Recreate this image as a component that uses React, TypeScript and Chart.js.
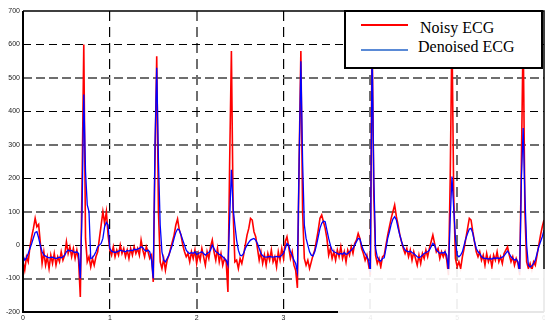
import React, { useEffect, useRef } from 'react';
import { Chart, registerables } from 'chart.js';

Chart.register(...registerables);

// Sampling interval of both traces (seconds)
const SAMPLE_STEP = 0.02;

// Axis ticks
const timeTicks = [0, 1, 2, 3, 4, 5, 6];
const amplitudeTicks = [-200, -100, 0, 100, 200, 300, 400, 500, 600, 700];

// Raw recording, one row per 0.2 s
const noisyEcg = [
  -50, -75, -35, -50, -5, 25, 50, 80, 55, 62,
  5, -55, -20, -60, -35, -70, -30, -55, -25, -60,
  -35, -50, -20, -45, -30, 10, -25, -5, -35, -10,
  -40, -15, -45, -155, 180, 600, 20, -50, -35, -65,
  -40, -60, -35, -20, 20, 60, 100, 65, 100, 30,
  -15, -30, -5, -35, -15, -30, 0, -25, -10, -35,
  -15, -40, -10, -30, -5, -25, -10, -30, 15, -15,
  -35, -5, -20, -40, -30, -110, 250, 565, 100, -50,
  -70, -40, -75, -45, -30, -10, 10, 30, 60, 78,
  45, 30, 0, -20, -35, -25, -50, -20, -40, -15,
  -55, -25, -45, -10, -35, -60, -20, -40, -5, 15,
  -20, -45, -10, -50, -25, -60, -40, -50, -140, 250,
  580, 100, -50, -45, -70, -40, -55, -30, 0, 30,
  50, 80, 75, 40, 25, -10, -45, -20, -55, -30,
  -60, -25, -45, -15, -50, -35, -65, -20, -45, -10,
  -40, 10, 25, -5, -40, -20, -60, -75, -128, 250,
  580, 100, -40, -60, -45, -70, -50, -30, -15, 15,
  45, 80, 90, 70, 50, 20, -30, -10, -40, -20,
  -45, -15, -35, -5, -40, -20, -50, -15, -30, -5,
  -25, 5, 15, 35, 20, -10, -25, -45, -30, -60,
  -90, 640, 150, -30, -55, -40, -65, -35, -30, 0,
  30, 55, 80, 100, 120, 85, 60, 30, 10, -10,
  -25, -10, -35, -15, -45, -20, -40, -60, -30, -55,
  -25, -40, -15, -35, -10, 10, 30, 5, -20, -10,
  -40, -20, -35, -20, -45, -90, 200, 640, 150, -40,
  -65, -50, -70, -35, -10, 20, 50, 80, 75, 40,
  10, -20, -35, -20, -45, -30, -60, -25, -50, -35,
  -65, -30, -45, -20, -50, -35, -55, -25, -15, -5,
  -30, -50, -35, -60, -40, -55, -90, 250, 640, 100,
  -50, -70, -55, -75, -50, -60, -30, 0, 30, 55,
  75,
];

// Filtered output, same sampling
const denoisedEcg = [
  -30, -45, -38, -25, -10, 5, 22, 38, 40, 22,
  -2, -20, -30, -33, -36, -38, -37, -36, -38, -40,
  -38, -36, -38, -35, -30, -20, -15, -18, -16, -20,
  -22, -20, -25, -100, 100, 450, 220, 120, 100, -40,
  -38, -30, -20, -5, 0, 5, 20, 55, 68, 60,
  -10, -18, -20, -22, -20, -18, -15, -17, -18, -20,
  -16, -18, -15, -17, -12, -14, -12, -10, -5, -8,
  -15, -18, -15, -20, -45, -100, 300, 530, 250, 60,
  -20, -45, -50, -40, -30, -15, 0, 20, 38, 48,
  45, 30, 15, 0, -15, -22, -25, -22, -25, -20,
  -28, -25, -22, -20, -25, -30, -25, -22, -15, 0,
  -10, -20, -22, -28, -30, -35, -40, -45, -60, 80,
  225, 110, 60, 15, -15, -30, -32, -25, -10, 0,
  8, 15, 18, 20, 15, 5, -10, -25, -32, -35,
  -36, -35, -34, -35, -36, -35, -34, -35, -35, -30,
  -25, -10, 5, 0, -20, -30, -45, -55, -80, 250,
  550, 250, 60, 20, 0, -20, -30, -32, -20, 0,
  25, 50, 65, 72, 70, 45, 20, 0, -15, -20,
  -22, -25, -28, -25, -27, -22, -28, -25, -20, -15,
  -10, 0, 10, 20, 18, 0, -15, -25, -35, -45,
  -80, 590, 200, -10, -35, -45, -48, -40, -38, -10,
  20, 40, 62, 78, 85, 75, 50, 30, 10, -5,
  -15, -18, -20, -18, -22, -25, -30, -35, -38, -35,
  -30, -25, -22, -20, -15, -5, 5, 0, -15, -20,
  -25, -22, -24, -20, -30, -75, 80, 205, 110, 20,
  -30, -35, -30, -20, 0, 20, 35, 48, 50, 35,
  10, -10, -20, -25, -35, -38, -40, -40, -42, -40,
  -42, -38, -40, -38, -40, -38, -36, -32, -25, -18,
  -25, -35, -40, -45, -42, -50, -80, 200, 350, 150,
  0, -60, -65, -62, -55, -45, -25, -5, 10, 25,
  45,
];

const seriesLabels = ['Noisy ECG', 'Denoised ECG'];

const NOISY_COLOR = '#ff0000';
const DENOISED_COLOR = '#0000ff';
const DENOISED_KEY_COLOR = '#5a8ad6';
const GRID_DARK = '#000000';
const GRID_GREY = '#6e6e6e';

const toPoints = (values: number[]) =>
  values.map((v, i) => ({ x: Math.round(i * SAMPLE_STEP * 100) / 100, y: v }));

// Solid box around the plotting area, drawn over the traces
const axesFrame = {
  id: 'axesFrame',
  afterDatasetsDraw(chart: Chart) {
    const { ctx, chartArea } = chart;
    const { left, right, top, bottom } = chartArea;
    ctx.save();
    ctx.strokeStyle = '#000';
    ctx.lineWidth = 2;
    ctx.beginPath();
    ctx.moveTo(left, top);
    ctx.lineTo(left, bottom);
    ctx.lineTo(right, bottom);
    ctx.stroke();
    ctx.lineWidth = 1.5;
    ctx.beginPath();
    ctx.moveTo(left, top);
    ctx.lineTo(right, top);
    ctx.lineTo(right, bottom);
    ctx.stroke();
    ctx.restore();
  },
};

const tickFont = { family: '"Liberation Sans", Arial, sans-serif', size: 7 };

export default function App() {
  const canvasRef = useRef<HTMLCanvasElement | null>(null);

  useEffect(() => {
    const canvas = canvasRef.current;
    if (!canvas) return;

    const isEdge = (v: number, lo: number, hi: number) => v <= lo || v >= hi;

    const yGridColor = (c: any) => {
      const v = c.tick ? c.tick.value : 0;
      if (isEdge(v, -200, 700)) return 'rgba(0,0,0,0)';
      return Math.round(v / 100) % 2 === 0 ? GRID_DARK : GRID_GREY;
    };
    const yGridWidth = (c: any) => {
      const v = c.tick ? c.tick.value : 0;
      return Math.round(v / 100) % 2 === 0 ? 1 : 2;
    };
    const yGridDash = (c: any) => {
      const v = c.tick ? c.tick.value : 0;
      return Math.round(v / 100) % 2 === 0 ? [8, 5] : [9, 4];
    };
    const xGridColor = (c: any) => {
      const v = c.tick ? c.tick.value : 0;
      if (isEdge(v, 0, 6)) return 'rgba(0,0,0,0)';
      return v === 1 || v === 3 ? GRID_DARK : GRID_GREY;
    };
    const xGridWidth = (c: any) => {
      const v = c.tick ? c.tick.value : 0;
      return v === 1 || v === 3 ? 1.2 : 2;
    };

    const chart = new Chart(canvas, {
      type: 'line',
      data: {
        datasets: [
          {
            label: seriesLabels[0],
            data: toPoints(noisyEcg),
            borderColor: NOISY_COLOR,
            borderWidth: 1.6,
            pointRadius: 0,
            tension: 0,
            order: 2,
          },
          {
            label: seriesLabels[1],
            data: toPoints(denoisedEcg),
            borderColor: DENOISED_COLOR,
            borderWidth: 1.3,
            pointRadius: 0,
            tension: 0,
            order: 1,
          },
        ],
      },
      options: {
        responsive: false,
        animation: false,
        devicePixelRatio: 1,
        layout: { padding: { top: 11, right: 1, left: 0, bottom: 0 } },
        plugins: {
          legend: { display: false },
          tooltip: { enabled: false },
        },
        scales: {
          x: {
            type: 'linear',
            min: timeTicks[0],
            max: timeTicks[timeTicks.length - 1],
            afterBuildTicks: (s: any) => {
              s.ticks = timeTicks.map((v) => ({ value: v }));
            },
            afterFit: (s: any) => {
              s.height = 12;
              s.paddingLeft = 0;
              s.paddingRight = 0;
            },
            ticks: {
              font: tickFont,
              color: '#222',
              padding: 2,
              maxRotation: 0,
              autoSkip: false,
            },
            grid: {
              drawTicks: false,
              color: xGridColor,
              lineWidth: xGridWidth,
            },
            border: { display: false, dash: [10, 6] },
          },
          y: {
            type: 'linear',
            min: amplitudeTicks[0],
            max: amplitudeTicks[amplitudeTicks.length - 1],
            afterBuildTicks: (s: any) => {
              s.ticks = amplitudeTicks.map((v) => ({ value: v }));
            },
            afterFit: (s: any) => {
              s.width = 23;
              s.paddingTop = 0;
              s.paddingBottom = 0;
            },
            ticks: {
              font: tickFont,
              color: '#222',
              padding: 3,
              autoSkip: false,
            },
            grid: {
              drawTicks: false,
              color: yGridColor,
              lineWidth: yGridWidth,
            },
            border: { display: false, dash: yGridDash },
          },
        },
      } as any,
      plugins: [axesFrame],
    });

    return () => chart.destroy();
  }, []);

  const keyLine = (color: string, top: number) => ({
    position: 'absolute' as const,
    left: 15,
    top,
    width: 47,
    height: 2,
    background: color,
  });

  const keyText = (left: number, top: number) => ({
    position: 'absolute' as const,
    left,
    top,
    fontFamily: '"Liberation Serif", "Times New Roman", serif',
    fontSize: 16,
    lineHeight: '16px',
    color: '#000',
    whiteSpace: 'nowrap' as const,
  });

  return (
    <div
      style={{
        position: 'absolute',
        left: 0,
        top: 0,
        width: 545,
        height: 324,
        background: '#fff',
        overflow: 'hidden',
      }}
    >
      <canvas ref={canvasRef} width={545} height={324} style={{ display: 'block' }} />
      <div
        style={{
          position: 'absolute',
          left: 344,
          top: 10,
          width: 199,
          height: 59,
          boxSizing: 'border-box',
          border: '2px solid #000',
          background: '#fff',
        }}
      >
        <div style={keyLine(NOISY_COLOR, 12)} />
        <span style={keyText(74, 7.6)}>{seriesLabels[0]}</span>
        <div style={keyLine(DENOISED_KEY_COLOR, 37)} />
        <span style={keyText(72, 27.3)}>{seriesLabels[1]}</span>
      </div>
      <div
        style={{
          position: 'absolute',
          left: 338,
          top: 269,
          width: 207,
          height: 55,
          background: 'rgba(255,255,255,0.9)',
        }}
      />
    </div>
  );
}
